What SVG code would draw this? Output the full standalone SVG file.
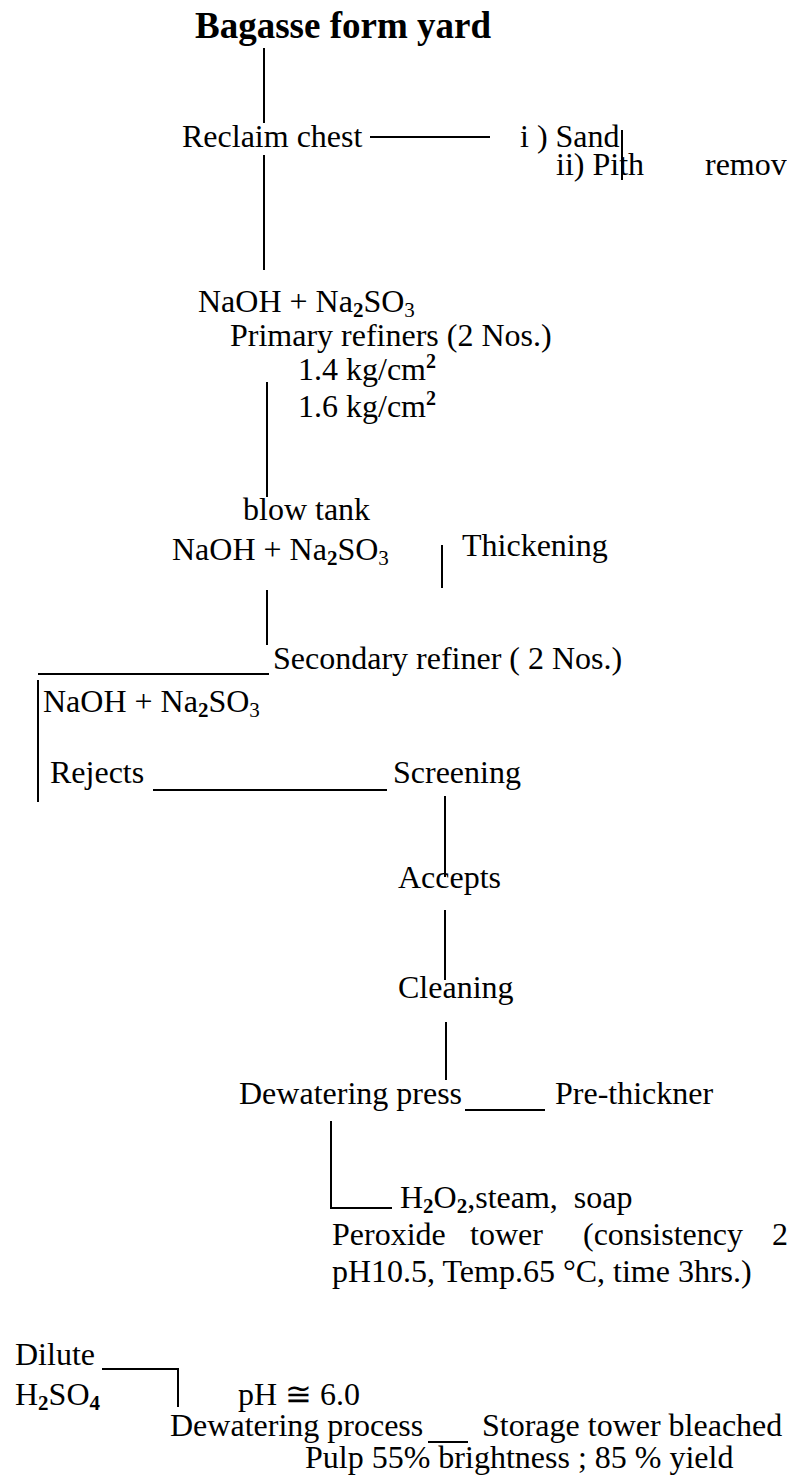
<svg xmlns="http://www.w3.org/2000/svg" width="787" height="1482" viewBox="0 0 787 1482">
<style>
text{font-family:"Liberation Serif","Times New Roman",serif;font-size:32px;fill:#000}
.title{font-weight:bold;font-size:37px}
.sub{font-size:21px}
.b{font-weight:bold}
.sup{font-size:20px;font-weight:bold}
.c line,.c path{stroke:#000;stroke-width:2;fill:none}
</style>
<rect width="787" height="1482" fill="#fff"/>
<g class="c" id="connectors">
<line x1="264" y1="48" x2="264" y2="123"/>
<line x1="370" y1="137" x2="490" y2="137"/>
<line x1="622" y1="130" x2="622" y2="180"/>
<line x1="264" y1="155" x2="264" y2="270"/>
<line x1="267" y1="382" x2="267" y2="497"/>
<line x1="442" y1="545" x2="442" y2="588"/>
<line x1="267" y1="590" x2="267" y2="645"/>
<line x1="38" y1="674" x2="269" y2="674"/>
<line x1="38" y1="680" x2="38" y2="802"/>
<line x1="153" y1="790" x2="387" y2="790"/>
<line x1="445" y1="796" x2="445" y2="877"/>
<line x1="445" y1="910" x2="445" y2="980"/>
<line x1="446" y1="1022" x2="446" y2="1080"/>
<line x1="465" y1="1110" x2="545" y2="1110"/>
<path d="M331,1121 V1208 H392"/>
<path d="M102,1369 H178 V1407"/>
<line x1="428" y1="1442" x2="468" y2="1442"/>
</g>
<g id="bagasse"><text class="title" x="195" y="38">Bagasse form yard</text></g>
<g id="reclaim"><text x="182" y="147">Reclaim chest</text></g>
<g id="removal">
<text x="520" y="147">i ) Sand</text>
<text x="556" y="175">ii) Pith</text>
<text x="705" y="175">remov</text>
</g>
<g id="primary">
<text x="198" y="312">NaOH + Na<tspan class="sub b" dy="5">2</tspan><tspan dy="-5">SO</tspan><tspan class="sub" dy="5">3</tspan></text>
<text x="230" y="346">Primary refiners (2 Nos.)</text>
<text x="298" y="380">1.4 kg/cm<tspan class="sup" dy="-12">2</tspan></text>
<text x="298" y="417">1.6 kg/cm<tspan class="sup" dy="-12">2</tspan></text>
</g>
<g id="blowtank">
<text x="243" y="520">blow tank</text>
<text x="172" y="560">NaOH + Na<tspan class="sub b" dy="5">2</tspan><tspan dy="-5">SO</tspan><tspan class="sub" dy="5">3</tspan></text>
</g>
<g id="thickening"><text x="462" y="556">Thickening</text></g>
<g id="secondary"><text x="273" y="669">Secondary refiner ( 2 Nos.)</text></g>
<g id="chem3"><text x="43" y="712">NaOH + Na<tspan class="sub b" dy="5">2</tspan><tspan dy="-5">SO</tspan><tspan class="sub" dy="5">3</tspan></text></g>
<g id="rejects"><text x="50" y="783">Rejects</text></g>
<g id="screening"><text x="393" y="783">Screening</text></g>
<g id="accepts"><text x="398" y="888">Accepts</text></g>
<g id="cleaning"><text x="398" y="998">Cleaning</text></g>
<g id="dewpress"><text x="239" y="1104">Dewatering press</text></g>
<g id="prethickner"><text x="555" y="1104">Pre-thickner</text></g>
<g id="peroxide">
<text x="400" y="1208" xml:space="preserve">H<tspan class="sub b" dy="5">2</tspan><tspan dy="-5">O</tspan><tspan class="sub b" dy="5">2</tspan><tspan dy="-5">,steam,  soap</tspan></text>
<text y="1245"><tspan x="332">Peroxide</tspan><tspan x="470">tower</tspan><tspan x="583">(consistency</tspan><tspan x="772">2</tspan></text>
<text x="332" y="1282">pH10.5, Temp.65 °C, time 3hrs.)</text>
</g>
<g id="acid">
<text x="15" y="1365">Dilute</text>
<text x="15" y="1405">H<tspan class="sub b" dy="5">2</tspan><tspan dy="-5">SO</tspan><tspan class="sub b" dy="5">4</tspan></text>
</g>
<g id="ph"><text x="238" y="1405">pH ≅ 6.0</text></g>
<g id="dewprocess"><text x="170" y="1436">Dewatering process</text></g>
<g id="storage">
<text x="482" y="1436">Storage tower bleached</text>
<text x="305" y="1468">Pulp 55% brightness ; 85 % yield</text>
</g>
</svg>
